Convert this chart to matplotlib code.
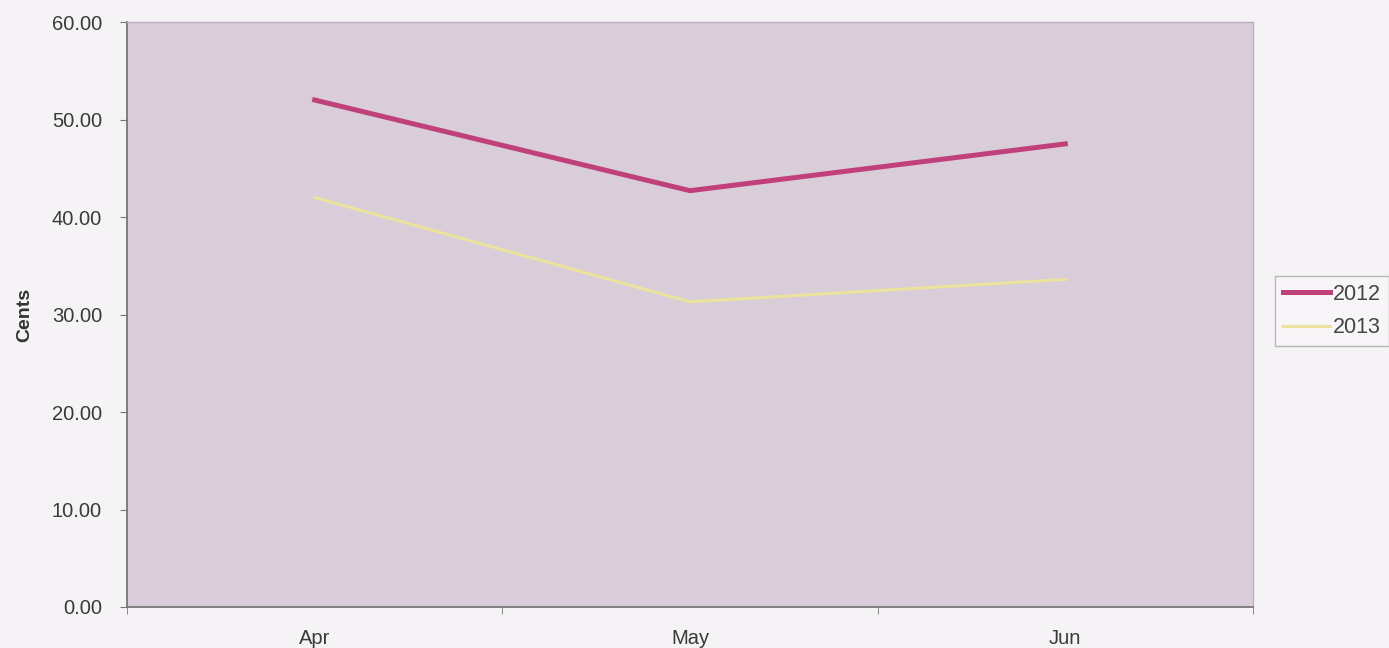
import matplotlib
matplotlib.use("Agg")
import matplotlib.pyplot as plt
from matplotlib.ticker import FormatStrFormatter, FixedLocator

plt.rcParams['font.family'] = ['Liberation Sans', 'DejaVu Sans']

months = ["Apr", "May", "Jun"]
series_2012 = [52.0, 42.7, 47.5]
series_2013 = [42.0, 31.3, 33.6]
yticks = [0, 10, 20, 30, 40, 50, 60]

W, H = 1389, 648
fig = plt.figure(figsize=(13.89, 6.48), dpi=100, facecolor="#f6f3f6")
ax = fig.add_axes([127 / W, 1 - 607 / H, (1253 - 127) / W, (607 - 22) / H])
ax.set_facecolor("#d9cdd9")

x = list(range(len(months)))
ax.plot(x, series_2012, color="#c0407a", lw=3.6, label="2012", solid_joinstyle="miter")
ax.plot(x, series_2013, color="#ebe29e", lw=2.2, label="2013")

ax.set_xlim(-0.5, len(months) - 0.5)
ax.set_ylim(0, 60)
ax.set_yticks(yticks)
ax.yaxis.set_major_formatter(FormatStrFormatter("%.2f"))
ax.set_xticks(x)
ax.set_xticklabels(months)
ax.xaxis.set_minor_locator(FixedLocator([-0.5, 0.5, 1.5, 2.5]))
ax.tick_params(axis="x", which="major", length=0, pad=15.5, labelsize=14.5, labelcolor="#3a3a3a")
ax.tick_params(axis="x", which="minor", length=5, color="#777777", direction="out")
ax.tick_params(axis="y", length=5, color="#777777", labelsize=14.5, labelcolor="#3a3a3a", pad=13)

for side in ["top", "right"]:
    ax.spines[side].set_color("#bdb0bd")
    ax.spines[side].set_linewidth(1.0)
for side in ["left", "bottom"]:
    ax.spines[side].set_color("#777777")
    ax.spines[side].set_linewidth(1.3)

ax.set_ylabel("Cents", fontsize=14, fontweight="bold", color="#333333", labelpad=13)

leg = ax.legend(loc="upper left", bbox_to_anchor=(1275 / W, 1 - 276 / H),
                bbox_transform=fig.transFigure, borderaxespad=0, frameon=True,
                fontsize=15.5, handlelength=2.2, handletextpad=0.15, borderpad=0.35,
                labelspacing=0.6, fancybox=False)
leg.get_frame().set_edgecolor("#a8a8a8")
leg.get_frame().set_facecolor("#f8f6f8")
for t in leg.get_texts():
    t.set_color("#444444")

fig.savefig("out.png", dpi=100, facecolor=fig.get_facecolor())
